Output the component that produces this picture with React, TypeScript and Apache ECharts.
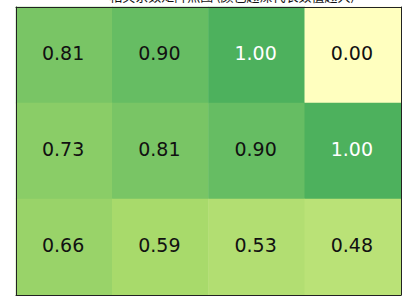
import React, { useEffect, useRef } from "react";
import * as echarts from "echarts";

const colLabels = ["C1", "C2", "C3", "C4"];
const rowLabels = ["R1", "R2", "R3"];
const row1 = [0.81, 0.9, 1.0, 0.0];
const row2 = [0.73, 0.81, 0.9, 1.0];
const row3 = [0.66, 0.59, 0.53, 0.48];
const rows = [row1, row2, row3];
const titleText = "相关系数矩阵热图 (颜色越深代表数值越大)";
// RdYlGn upper half (center 0, norm range ±1.5)
const colorStops = ["#ffffbf", "#d9ef8b", "#a6d96a", "#66bd63", "#1a9850", "#006837"];

export default function App() {
  const ref = useRef<HTMLDivElement>(null);
  useEffect(() => {
    if (!ref.current) return;
    const chart = echarts.init(ref.current, null, { renderer: "svg" });
    const data: any[] = [];
    rows.forEach((r, ri) =>
      r.forEach((v, ci) => {
        data.push({
          value: [ci, ri, v],
          label: { color: v >= 0.95 ? "#ffffff" : "#111111" },
        });
      })
    );
    const hiddenAxis = {
      axisLabel: { show: false },
      axisTick: { show: false },
      splitLine: { show: false },
      axisLine: { show: true, lineStyle: { color: "#222", width: 1 } },
      z: 10,
    };
    chart.setOption({
      animation: false,
      grid: { left: 16, top: 7, width: 385, height: 288 },
      xAxis: [
        { type: "category", data: colLabels, position: "bottom", ...hiddenAxis },
        { type: "category", data: colLabels, position: "top", ...hiddenAxis },
      ],
      yAxis: [
        { type: "category", data: rowLabels, inverse: true, position: "left", ...hiddenAxis },
        { type: "category", data: rowLabels, inverse: true, position: "right", ...hiddenAxis },
      ],
      visualMap: {
        show: false,
        min: 0,
        max: 1.5,
        dimension: 2,
        inRange: { color: colorStops },
      },
      graphic: [
        {
          type: "text",
          x: 232,
          y: 2,
          style: {
            text: titleText,
            fontSize: 13,
            fontFamily: "Noto Sans CJK SC",
            fill: "#111",
            align: "center",
            verticalAlign: "bottom",
          },
          z: 100,
        },
      ],
      series: [
        {
          type: "heatmap",
          xAxisIndex: 0,
          yAxisIndex: 0,
          data,
          label: {
            show: true,
            fontFamily: "DejaVu Sans",
            fontSize: 19,
            offset: [-1, -2],
            formatter: (p: any) => p.value[2].toFixed(2),
          },
          itemStyle: { borderWidth: 0 },
          emphasis: { disabled: true },
        },
      ],
    });
    return () => chart.dispose();
  }, []);
  return (
    <div
      ref={ref}
      style={{ position: "fixed", left: 0, top: 0, width: 409, height: 308, background: "#fff" }}
    />
  );
}
